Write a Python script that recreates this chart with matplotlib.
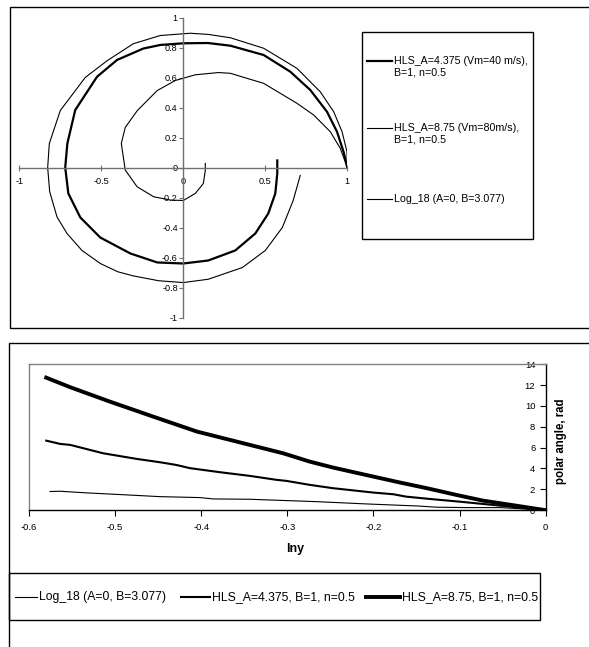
import matplotlib
matplotlib.use("Agg")
import matplotlib.pyplot as plt
from matplotlib.lines import Line2D
from matplotlib.patches import Rectangle

plt.rcParams['font.family'] = ['Liberation Sans', 'DejaVu Sans']

# ---------------- data: top chart (spirals, x / y coordinates) ----------------
hls_4375_x = [1.0, 0.977, 0.937, 0.876, 0.774, 0.652, 0.490, 0.287, 0.15, 0.0, -0.14, -0.244, -0.404,
              -0.526, -0.659, -0.707, -0.72, -0.701, -0.628, -0.506, -0.323, -0.159, 0.0, 0.152,
              0.317, 0.439, 0.518, 0.561, 0.573, 0.573]
hls_4375_y = [0.0, 0.105, 0.239, 0.372, 0.517, 0.639, 0.75, 0.812, 0.830, 0.828, 0.817, 0.793, 0.717,
              0.605, 0.383, 0.16, 0.0, -0.173, -0.333, -0.467, -0.573, -0.633, -0.64, -0.62,
              -0.553, -0.44, -0.307, -0.173, -0.04, 0.047]

hls_875_x = [1.0, 0.998, 0.968, 0.917, 0.835, 0.693, 0.490, 0.287, 0.154, 0.043, -0.14, -0.305,
             -0.463, -0.598, -0.75, -0.817, -0.827, -0.815, -0.77, -0.709, -0.618, -0.506, -0.40,
             -0.303, -0.15, 0.0, 0.152, 0.36, 0.5, 0.604, 0.67, 0.713]
hls_875_y = [0.0, 0.105, 0.239, 0.372, 0.505, 0.661, 0.795, 0.865, 0.887, 0.895, 0.88, 0.825,
             0.713, 0.60, 0.38, 0.16, 0.0, -0.16, -0.33, -0.44, -0.553, -0.64, -0.695,
             -0.723, -0.755, -0.767, -0.745, -0.667, -0.553, -0.40, -0.22, -0.053]

log18_x = [1.0, 0.957, 0.896, 0.795, 0.693, 0.490, 0.287, 0.215, 0.073, -0.049, -0.159,
           -0.28, -0.354, -0.378, -0.354, -0.282, -0.181, -0.079, 0.0, 0.073, 0.122, 0.134, 0.134]
log18_y = [0.0, 0.128, 0.239, 0.35, 0.428, 0.561, 0.628, 0.633, 0.618, 0.58, 0.513,
           0.38, 0.267, 0.16, -0.017, -0.128, -0.195, -0.217, -0.22, -0.173, -0.107, -0.02, 0.027]

top_xticks = [-1, -0.5, 0, 0.5, 1]
top_xticklabels = ["-1", "-0.5", "0", "0.5", "1"]
top_yticks = [-1, -0.8, -0.6, -0.4, -0.2, 0, 0.2, 0.4, 0.6, 0.8, 1]
top_yticklabels = ["-1", "-0.8", "-0.6", "-0.4", "-0.2", "0", "0.2", "0.4", "0.6", "0.8", "1"]
top_labels = ["HLS_A=4.375 (Vm=40 m/s),", "B=1, n=0.5",
              "HLS_A=8.75 (Vm=80m/s),", "B=1, n=0.5",
              "Log_18 (A=0, B=3.077)"]

# ---------------- data: bottom chart (polar angle vs lny) ----------------
b_log18_lny = [-0.5756, -0.564, -0.533, -0.494, -0.448, -0.4015, -0.386, -0.3435, -0.324, -0.266,
               -0.208, -0.181, -0.150, -0.127, -0.092, -0.053, 0.0]
b_log18_ang = [1.79, 1.82, 1.66, 1.50, 1.30, 1.21, 1.08, 1.05, 0.99, 0.82,
               0.60, 0.51, 0.41, 0.29, 0.25, 0.25, 0.0]

b_hls4375_lny = [-0.580, -0.564, -0.552, -0.514, -0.475, -0.448, -0.429, -0.413, -0.378, -0.3435,
                 -0.3125, -0.301, -0.274, -0.247, -0.200, -0.177, -0.162, -0.131, -0.100, -0.073, 0.0]
b_hls4375_ang = [6.67, 6.36, 6.26, 5.46, 4.92, 4.60, 4.34, 4.03, 3.64, 3.29,
                 2.91, 2.81, 2.43, 2.11, 1.69, 1.53, 1.30, 1.05, 0.82, 0.60, 0.0]

b_hls875_lny = [-0.580, -0.552, -0.506, -0.456, -0.405, -0.3435, -0.305, -0.274, -0.247, -0.200,
                -0.169, -0.138, -0.104, -0.073, -0.053, 0.0]
b_hls875_ang = [12.71, 11.79, 10.41, 8.98, 7.54, 6.26, 5.46, 4.66, 4.09, 3.22,
                2.65, 2.11, 1.47, 0.92, 0.67, 0.0]

bot_xticks = [-0.6, -0.5, -0.4, -0.3, -0.2, -0.1, 0]
bot_xticklabels = ["-0.6", "-0.5", "-0.4", "-0.3", "-0.2", "-0.1", "0"]
bot_yticks = [0, 2, 4, 6, 8, 10, 12, 14]
bot_yticklabels = ["0", "2", "4", "6", "8", "10", "12", "14"]
bot_labels = ["Log_18 (A=0, B=3.077)", "HLS_A=4.375, B=1, n=0.5", "HLS_A=8.75, B=1, n=0.5"]

# ---------------- figure ----------------
W, H = 589, 647
fig = plt.figure(figsize=(W / 100, H / 100), dpi=100)
fig.patch.set_facecolor('white')


def fx(px):
    return px / W


def fy(py):
    return 1 - py / H


# panel frames
fig.add_artist(Rectangle((fx(10), fy(328)), fx(620 - 10), (328 - 7) / H,
                         transform=fig.transFigure, fill=False, lw=1.0, ec='black'))
fig.add_artist(Rectangle((fx(9), fy(700)), fx(620 - 9), (700 - 343) / H,
                         transform=fig.transFigure, fill=False, lw=1.0, ec='black'))

# ---------------- top chart ----------------
ax1 = fig.add_axes([fx(19.3), fy(317.5), (347.3 - 19.3) / W, (317.5 - 17.5) / H])
ax1.set_xlim(-1, 1)
ax1.set_ylim(-1, 1)
ax1.plot(hls_875_x, hls_875_y, color='black', lw=0.8, solid_joinstyle='round')
ax1.plot(log18_x, log18_y, color='black', lw=0.8, solid_joinstyle='round')
ax1.plot(hls_4375_x, hls_4375_y, color='black', lw=1.6, solid_joinstyle='round')
for s in ['top', 'right']:
    ax1.spines[s].set_visible(False)
for s in ['left', 'bottom']:
    ax1.spines[s].set_position('zero')
    ax1.spines[s].set_color('#707070')
    ax1.spines[s].set_linewidth(1.0)
ax1.xaxis.set_ticks_position('bottom')
ax1.yaxis.set_ticks_position('left')
ax1.set_xticks(top_xticks)
ax1.set_xticklabels(top_xticklabels)
ax1.set_yticks(top_yticks)
ax1.set_yticklabels(top_yticklabels)
ax1.tick_params(axis='x', direction='inout', length=4, width=0.8, color='#707070',
                labelsize=6.6, pad=5)
ax1.tick_params(axis='y', direction='out', length=3, width=0.8, color='#707070',
                labelsize=6.6, pad=1)
ax1.patch.set_alpha(0)

# top legend (drawn in figure pixels)
fig.add_artist(Rectangle((fx(362), fy(239)), (533 - 362) / W, (239 - 32) / H,
                         transform=fig.transFigure, fill=False, lw=1.0, ec='black'))
leg_fs = 7.7
fig.add_artist(Line2D([fx(367), fx(392)], [fy(61), fy(61)], color='black', lw=1.6))
fig.text(fx(393.5), fy(61), top_labels[0], fontsize=leg_fs, va='center', ha='left')
fig.text(fx(393.5), fy(72.5), top_labels[1], fontsize=leg_fs, va='center', ha='left')
fig.add_artist(Line2D([fx(367), fx(392)], [fy(128), fy(128)], color='black', lw=0.8))
fig.text(fx(393.5), fy(128), top_labels[2], fontsize=leg_fs, va='center', ha='left')
fig.text(fx(393.5), fy(139.5), top_labels[3], fontsize=leg_fs, va='center', ha='left')
fig.add_artist(Line2D([fx(367), fx(392)], [fy(199), fy(199)], color='black', lw=0.8))
fig.text(fx(393.5), fy(199), top_labels[4], fontsize=leg_fs, va='center', ha='left')

# ---------------- bottom chart ----------------
ax2 = fig.add_axes([fx(29), fy(510.2), (545.7 - 29) / W, (510.2 - 364.2) / H])
ax2.set_xlim(-0.6, 0)
ax2.set_ylim(0, 14)
ax2.plot(b_log18_lny, b_log18_ang, color='black', lw=0.8, solid_joinstyle='round')
ax2.plot(b_hls4375_lny, b_hls4375_ang, color='black', lw=1.5, solid_joinstyle='round')
ax2.plot(b_hls875_lny, b_hls875_ang, color='black', lw=2.8, solid_joinstyle='round')
ax2.spines['top'].set_color('#808080')
ax2.spines['left'].set_color('#808080')
ax2.spines['bottom'].set_color('black')
ax2.spines['right'].set_color('black')
for s in ax2.spines.values():
    s.set_linewidth(1.0)
ax2.set_xticks(bot_xticks)
ax2.set_xticklabels(bot_xticklabels)
ax2.set_yticks(bot_yticks)
ax2.set_yticklabels(bot_yticklabels)
ax2.tick_params(axis='x', direction='out', length=4, width=0.8, labelsize=6.8, pad=5.5,
                top=False, bottom=True)
ax2.tick_params(axis='y', direction='in', length=4, width=0.8, labelsize=6.8, pad=-7.5,
                left=False, right=True, labelleft=False, labelright=True)
for lab in ax2.get_yticklabels():
    lab.set_horizontalalignment('right')
ax2.set_xlabel('lny', fontsize=9, fontweight='bold')
ax2.xaxis.set_label_coords(0.5148, -0.2267)
ax2.yaxis.set_label_position('right')
ax2.set_ylabel('polar angle, rad', fontsize=8.3, fontweight='bold')
ax2.yaxis.set_label_coords(1.0174, 0.47)

# bottom legend
fig.add_artist(Rectangle((fx(9.4), fy(620)), (540 - 9.4) / W, (620 - 573) / H,
                         transform=fig.transFigure, fill=False, lw=1.0, ec='black'))
bl_fs = 8.8
yl = 597
fig.add_artist(Line2D([fx(15), fx(37)], [fy(yl), fy(yl)], color='black', lw=0.8))
fig.text(fx(39.4), fy(yl), bot_labels[0], fontsize=bl_fs, va='center', ha='left')
fig.add_artist(Line2D([fx(181), fx(210)], [fy(yl), fy(yl)], color='black', lw=1.5))
fig.text(fx(212), fy(yl), bot_labels[1], fontsize=bl_fs, va='center', ha='left')
fig.add_artist(Line2D([fx(366), fx(400)], [fy(yl), fy(yl)], color='black', lw=2.8))
fig.text(fx(401.5), fy(yl), bot_labels[2], fontsize=bl_fs, va='center', ha='left')

fig.savefig('out.png', dpi=100, facecolor='white')
